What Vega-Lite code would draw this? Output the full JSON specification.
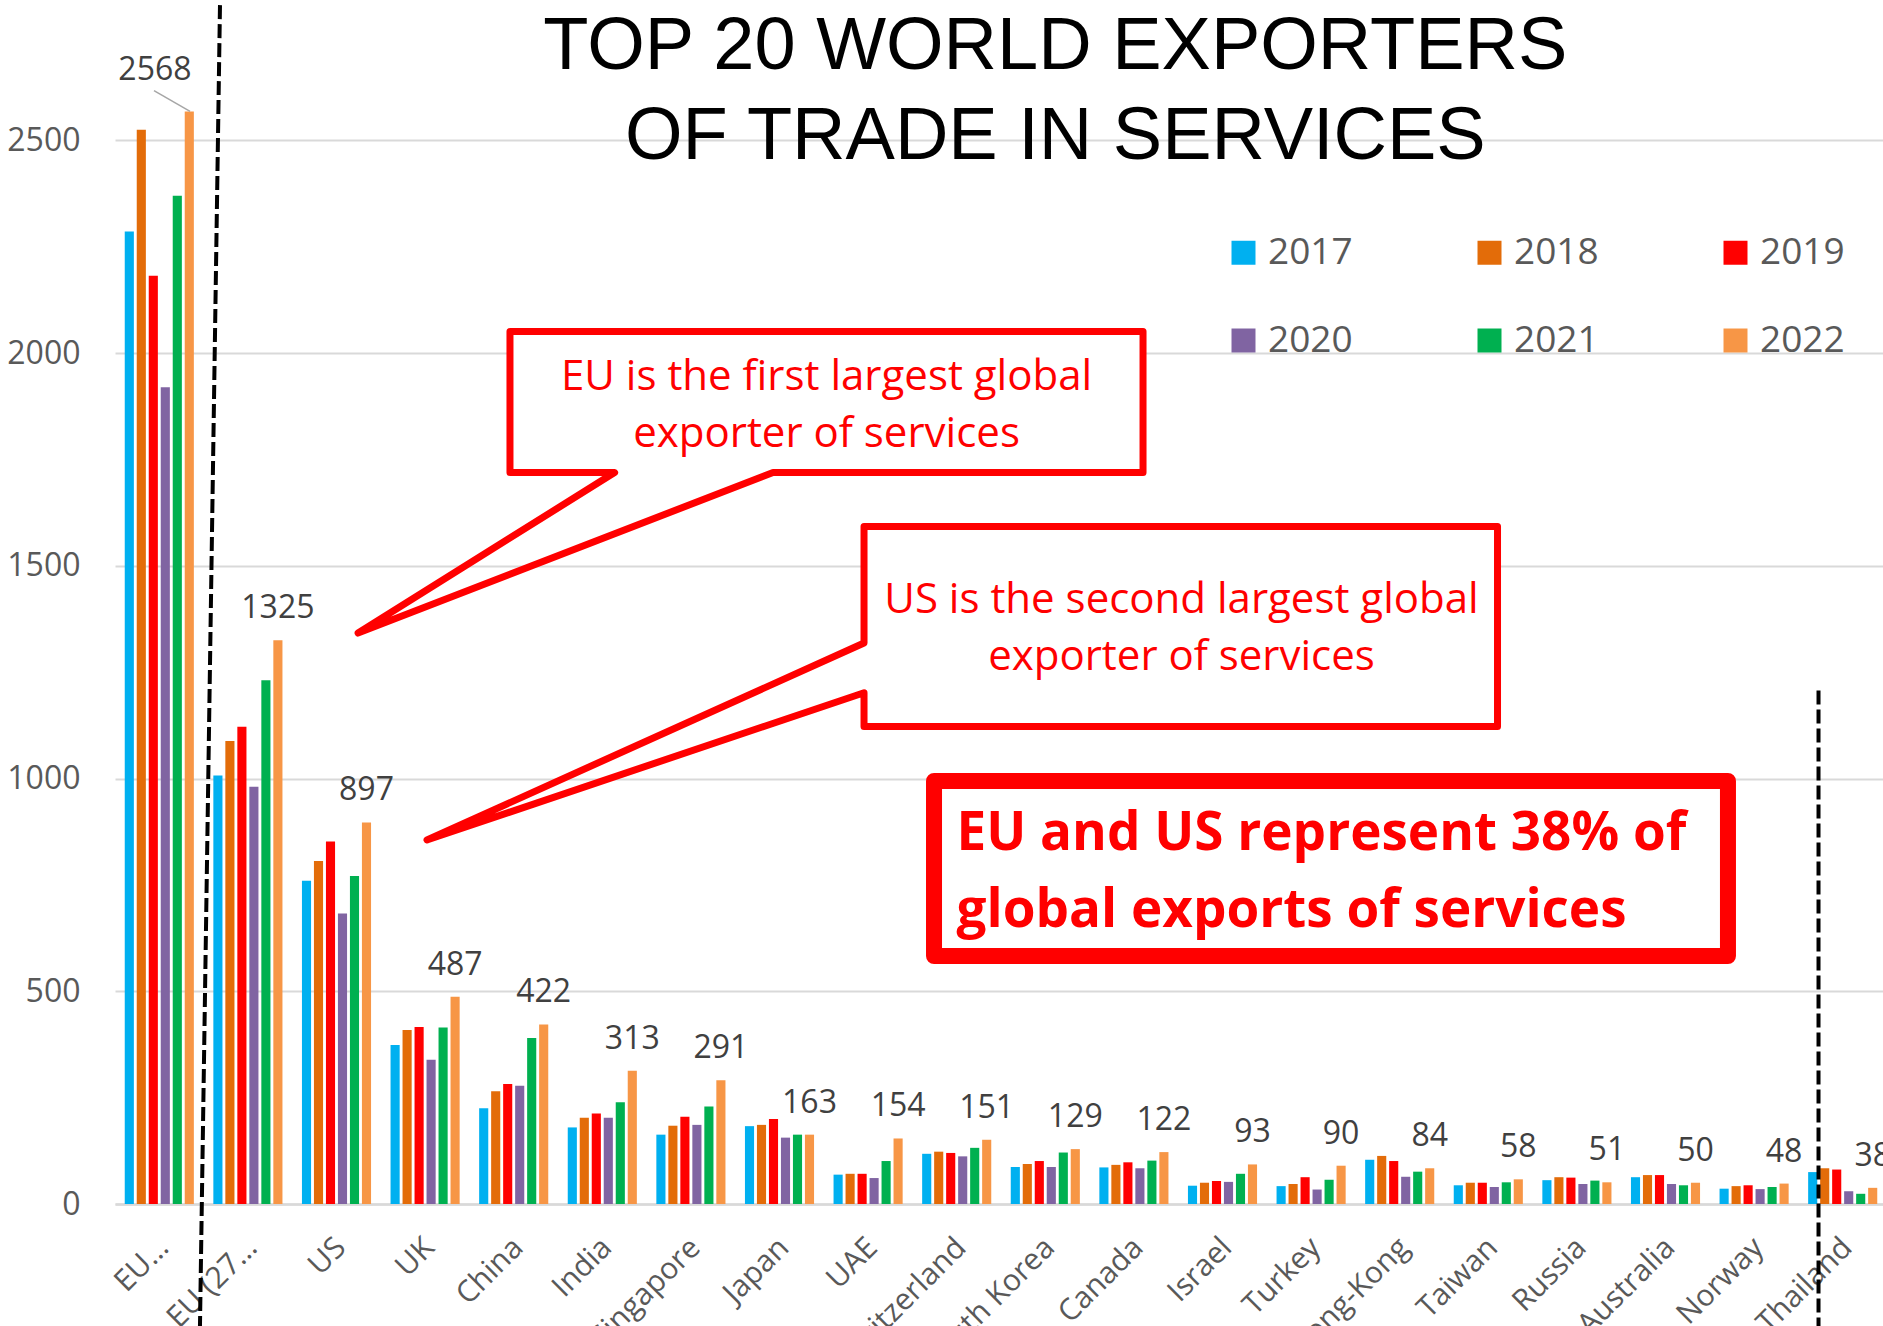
{
  "$schema": "https://vega.github.io/schema/vega-lite/v6.json",
  "width": 1772,
  "height": 1204,
  "autosize": "none",
  "padding": {"left": 115, "top": 0, "right": 0, "bottom": 122},
  "background": "white",
  "config": {"view": {"stroke": null}, "font": "Open Sans"},
  "datasets": {
    "exports": [
      {"country": "EU…", "year": "2017", "value": 2286}, {"country": "EU…", "year": "2018", "value": 2525}, {"country": "EU…", "year": "2019", "value": 2182}, {"country": "EU…", "year": "2020", "value": 1920}, {"country": "EU…", "year": "2021", "value": 2370}, {"country": "EU…", "year": "2022", "value": 2568},
      {"country": "Extra EU (27…", "year": "2017", "value": 1007}, {"country": "Extra EU (27…", "year": "2018", "value": 1088}, {"country": "Extra EU (27…", "year": "2019", "value": 1122}, {"country": "Extra EU (27…", "year": "2020", "value": 981}, {"country": "Extra EU (27…", "year": "2021", "value": 1231}, {"country": "Extra EU (27…", "year": "2022", "value": 1325},
      {"country": "US", "year": "2017", "value": 760}, {"country": "US", "year": "2018", "value": 806}, {"country": "US", "year": "2019", "value": 852}, {"country": "US", "year": "2020", "value": 683}, {"country": "US", "year": "2021", "value": 771}, {"country": "US", "year": "2022", "value": 897},
      {"country": "UK", "year": "2017", "value": 374}, {"country": "UK", "year": "2018", "value": 409}, {"country": "UK", "year": "2019", "value": 416}, {"country": "UK", "year": "2020", "value": 339}, {"country": "UK", "year": "2021", "value": 415}, {"country": "UK", "year": "2022", "value": 487},
      {"country": "China", "year": "2017", "value": 225}, {"country": "China", "year": "2018", "value": 265}, {"country": "China", "year": "2019", "value": 282}, {"country": "China", "year": "2020", "value": 278}, {"country": "China", "year": "2021", "value": 390}, {"country": "China", "year": "2022", "value": 422},
      {"country": "India", "year": "2017", "value": 180}, {"country": "India", "year": "2018", "value": 203}, {"country": "India", "year": "2019", "value": 213}, {"country": "India", "year": "2020", "value": 203}, {"country": "India", "year": "2021", "value": 239}, {"country": "India", "year": "2022", "value": 313},
      {"country": "Singapore", "year": "2017", "value": 163}, {"country": "Singapore", "year": "2018", "value": 184}, {"country": "Singapore", "year": "2019", "value": 205}, {"country": "Singapore", "year": "2020", "value": 186}, {"country": "Singapore", "year": "2021", "value": 229}, {"country": "Singapore", "year": "2022", "value": 291},
      {"country": "Japan", "year": "2017", "value": 183}, {"country": "Japan", "year": "2018", "value": 186}, {"country": "Japan", "year": "2019", "value": 200}, {"country": "Japan", "year": "2020", "value": 156}, {"country": "Japan", "year": "2021", "value": 163}, {"country": "Japan", "year": "2022", "value": 163},
      {"country": "UAE", "year": "2017", "value": 69}, {"country": "UAE", "year": "2018", "value": 71}, {"country": "UAE", "year": "2019", "value": 71}, {"country": "UAE", "year": "2020", "value": 61}, {"country": "UAE", "year": "2021", "value": 101}, {"country": "UAE", "year": "2022", "value": 154},
      {"country": "Switzerland", "year": "2017", "value": 118}, {"country": "Switzerland", "year": "2018", "value": 123}, {"country": "Switzerland", "year": "2019", "value": 120}, {"country": "Switzerland", "year": "2020", "value": 112}, {"country": "Switzerland", "year": "2021", "value": 132}, {"country": "Switzerland", "year": "2022", "value": 151},
      {"country": "South Korea", "year": "2017", "value": 87}, {"country": "South Korea", "year": "2018", "value": 94}, {"country": "South Korea", "year": "2019", "value": 101}, {"country": "South Korea", "year": "2020", "value": 87}, {"country": "South Korea", "year": "2021", "value": 121}, {"country": "South Korea", "year": "2022", "value": 129},
      {"country": "Canada", "year": "2017", "value": 86}, {"country": "Canada", "year": "2018", "value": 92}, {"country": "Canada", "year": "2019", "value": 98}, {"country": "Canada", "year": "2020", "value": 84}, {"country": "Canada", "year": "2021", "value": 102}, {"country": "Canada", "year": "2022", "value": 122},
      {"country": "Israel", "year": "2017", "value": 43}, {"country": "Israel", "year": "2018", "value": 50}, {"country": "Israel", "year": "2019", "value": 54}, {"country": "Israel", "year": "2020", "value": 52}, {"country": "Israel", "year": "2021", "value": 71}, {"country": "Israel", "year": "2022", "value": 93},
      {"country": "Turkey", "year": "2017", "value": 42}, {"country": "Turkey", "year": "2018", "value": 47}, {"country": "Turkey", "year": "2019", "value": 63}, {"country": "Turkey", "year": "2020", "value": 34}, {"country": "Turkey", "year": "2021", "value": 57}, {"country": "Turkey", "year": "2022", "value": 90},
      {"country": "Hong-Kong", "year": "2017", "value": 104}, {"country": "Hong-Kong", "year": "2018", "value": 113}, {"country": "Hong-Kong", "year": "2019", "value": 101}, {"country": "Hong-Kong", "year": "2020", "value": 64}, {"country": "Hong-Kong", "year": "2021", "value": 76}, {"country": "Hong-Kong", "year": "2022", "value": 84},
      {"country": "Taiwan", "year": "2017", "value": 44}, {"country": "Taiwan", "year": "2018", "value": 50}, {"country": "Taiwan", "year": "2019", "value": 50}, {"country": "Taiwan", "year": "2020", "value": 40}, {"country": "Taiwan", "year": "2021", "value": 51}, {"country": "Taiwan", "year": "2022", "value": 58},
      {"country": "Russia", "year": "2017", "value": 56}, {"country": "Russia", "year": "2018", "value": 63}, {"country": "Russia", "year": "2019", "value": 62}, {"country": "Russia", "year": "2020", "value": 47}, {"country": "Russia", "year": "2021", "value": 55}, {"country": "Russia", "year": "2022", "value": 51},
      {"country": "Australia", "year": "2017", "value": 63}, {"country": "Australia", "year": "2018", "value": 68}, {"country": "Australia", "year": "2019", "value": 68}, {"country": "Australia", "year": "2020", "value": 47}, {"country": "Australia", "year": "2021", "value": 44}, {"country": "Australia", "year": "2022", "value": 50},
      {"country": "Norway", "year": "2017", "value": 36}, {"country": "Norway", "year": "2018", "value": 42}, {"country": "Norway", "year": "2019", "value": 44}, {"country": "Norway", "year": "2020", "value": 35}, {"country": "Norway", "year": "2021", "value": 40}, {"country": "Norway", "year": "2022", "value": 48},
      {"country": "Thailand", "year": "2017", "value": 75}, {"country": "Thailand", "year": "2018", "value": 84}, {"country": "Thailand", "year": "2019", "value": 81}, {"country": "Thailand", "year": "2020", "value": 30}, {"country": "Thailand", "year": "2021", "value": 24}, {"country": "Thailand", "year": "2022", "value": 38}
    ],
    "boxes": [
      {"box": "b1", "x1": 4.458, "x2": 11.603, "value": 1719.4, "value2": 2050.8},
      {"box": "b2", "x1": 8.454, "x2": 15.604, "value": 1122.4, "value2": 1592.5},
      {"box": "b3", "x1": 9.244, "x2": 18.205, "value": 582.9, "value2": 994.2}
    ],
    "outlines": [
      {"shape": "b1", "i": 1, "x": 4.458, "value": 2050.8},
      {"shape": "b1", "i": 2, "x": 11.603, "value": 2050.8},
      {"shape": "b1", "i": 3, "x": 11.603, "value": 1719.4},
      {"shape": "b1", "i": 4, "x": 7.427, "value": 1719.4},
      {"shape": "b1", "i": 5, "x": 2.743, "value": 1342.1},
      {"shape": "b1", "i": 6, "x": 5.639, "value": 1719.4},
      {"shape": "b1", "i": 7, "x": 4.458, "value": 1719.4},
      {"shape": "b2", "i": 1, "x": 8.454, "value": 1592.5},
      {"shape": "b2", "i": 2, "x": 15.604, "value": 1592.5},
      {"shape": "b2", "i": 3, "x": 15.604, "value": 1122.4},
      {"shape": "b2", "i": 4, "x": 8.454, "value": 1122.4},
      {"shape": "b2", "i": 5, "x": 8.454, "value": 1201.8},
      {"shape": "b2", "i": 6, "x": 3.521, "value": 855.6},
      {"shape": "b2", "i": 7, "x": 8.454, "value": 1318.6},
      {"shape": "b3", "i": 1, "x": 9.244, "value": 994.2},
      {"shape": "b3", "i": 2, "x": 18.205, "value": 994.2},
      {"shape": "b3", "i": 3, "x": 18.205, "value": 582.9},
      {"shape": "b3", "i": 4, "x": 9.244, "value": 582.9}
    ],
    "guides": [
      {"line": "split1", "i": 1, "x": 1.185, "value": 2818},
      {"line": "split1", "i": 2, "x": 0.959, "value": -287},
      {"line": "split2", "i": 1, "x": 19.227, "value": 1207},
      {"line": "split2", "i": 2, "x": 19.227, "value": -287}
    ],
    "leader": [
      {"i": 1, "x": 0.44, "value": 2617},
      {"i": 2, "x": 0.847, "value": 2568}
    ],
    "texts": [
      {"kind": "title", "t": "TOP 20 WORLD EXPORTERS", "x": 10.613, "value": 2667},
      {"kind": "title", "t": "OF TRADE IN SERVICES", "x": 10.613, "value": 2455.5},
      {"kind": "callout", "t": "EU is the first largest global", "x": 8.031, "value": 1913.3},
      {"kind": "callout", "t": "exporter of services", "x": 8.031, "value": 1780},
      {"kind": "callout", "t": "US is the second largest global", "x": 12.037, "value": 1389.1},
      {"kind": "callout", "t": "exporter of services", "x": 12.037, "value": 1255.1},
      {"kind": "headline", "t": "EU and US represent 38% of", "x": 9.498, "value": 832.1},
      {"kind": "headline", "t": "global exports of services", "x": 9.498, "value": 651.8},
      {"kind": "eulabel", "t": "2568", "x": 0.451, "value": 2643}
    ]
  },
  "layer": [
    {
      "data": {"name": "exports"},
      "mark": {"type": "bar"},
      "encoding": {
        "x": {
          "field": "country", "type": "nominal", "sort": null,
          "scale": {"domain": ["EU…", "Extra EU (27…", "US", "UK", "China", "India", "Singapore", "Japan", "UAE", "Switzerland", "South Korea", "Canada", "Israel", "Turkey", "Hong-Kong", "Taiwan", "Russia", "Australia", "Norway", "Thailand"], "paddingInner": 0.22, "paddingOuter": 0.11},
          "axis": {"title": null, "labelAngle": -45, "labelFontSize": 30, "labelColor": "#595959", "labelFont": "Open Sans", "ticks": false, "domainColor": "#D9D9D9", "domainWidth": 2.5, "labelPadding": 28, "labelOffset": -6, "labelLimit": 400}
        },
        "xOffset": {"field": "year", "type": "nominal", "scale": {"domain": ["2017", "2018", "2019", "2020", "2021", "2022"], "paddingInner": 0.24}},
        "y": {
          "field": "value", "type": "quantitative",
          "scale": {"domain": [0, 2830], "nice": false},
          "axis": {"title": null, "values": [0, 500, 1000, 1500, 2000, 2500], "format": "d", "grid": true, "gridColor": "#D9D9D9", "gridWidth": 2, "domain": false, "ticks": false, "labelFontSize": 32, "labelColor": "#595959", "labelFont": "Open Sans", "labelPadding": 35}
        },
        "color": {
          "field": "year", "type": "nominal",
          "scale": {"domain": ["2017", "2018", "2019", "2020", "2021", "2022"], "range": ["#00B0F0", "#E36C09", "#FF0000", "#8064A2", "#00B050", "#F79646"]},
          "legend": {"title": null, "orient": "none", "legendX": 1110, "legendY": 234, "columns": 3, "direction": "horizontal", "symbolType": "square", "symbolSize": 576, "symbolStrokeWidth": 0, "symbolOpacity": 1, "labelFontSize": 37, "labelColor": "#595959", "labelFont": "Open Sans", "labelOffset": 6, "columnPadding": 118, "rowPadding": 50, "padding": 0}
        }
      }
    },
    {
      "data": {"name": "exports"},
      "transform": [{"filter": "datum.year == '2022' && datum.country != 'EU…'"}],
      "mark": {"type": "text", "baseline": "alphabetic", "align": "center", "dy": -22, "fontSize": 32, "color": "#404040", "font": "Open Sans"},
      "encoding": {
        "x": {
          "field": "country", "type": "nominal", "sort": null,
          "scale": {"domain": ["EU…", "Extra EU (27…", "US", "UK", "China", "India", "Singapore", "Japan", "UAE", "Switzerland", "South Korea", "Canada", "Israel", "Turkey", "Hong-Kong", "Taiwan", "Russia", "Australia", "Norway", "Thailand"], "paddingInner": 0.22, "paddingOuter": 0.11},
          "axis": null
        },
        "xOffset": {"field": "year", "type": "nominal", "scale": {"domain": ["2017", "2018", "2019", "2020", "2021", "2022"], "paddingInner": 0.24}},
        "y": {"field": "value", "type": "quantitative"},
        "text": {"field": "value", "type": "quantitative"}
      }
    },
    {
      "data": {"name": "guides"},
      "mark": {"type": "line", "color": "black", "strokeWidth": 4, "strokeDash": [14, 5]},
      "encoding": {
        "x": {"field": "x", "type": "quantitative", "scale": {"domain": [0, 20], "nice": false, "zero": false}, "axis": null},
        "y": {"field": "value", "type": "quantitative"},
        "detail": {"field": "line"},
        "order": {"field": "i"}
      }
    },
    {
      "data": {"name": "leader"},
      "mark": {"type": "line", "color": "#A6A6A6", "strokeWidth": 1.5},
      "encoding": {
        "x": {"field": "x", "type": "quantitative", "scale": {"domain": [0, 20], "nice": false, "zero": false}, "axis": null},
        "y": {"field": "value", "type": "quantitative"},
        "order": {"field": "i"}
      }
    },
    {
      "data": {"name": "boxes"},
      "mark": {"type": "rect", "fill": "white", "strokeWidth": 0},
      "encoding": {
        "x": {"field": "x1", "type": "quantitative", "scale": {"domain": [0, 20], "nice": false, "zero": false}, "axis": null},
        "x2": {"field": "x2"},
        "y": {"field": "value", "type": "quantitative"},
        "y2": {"field": "value2"}
      }
    },
    {
      "data": {"name": "outlines"},
      "transform": [{"filter": "datum.shape != 'b3'"}],
      "mark": {"type": "line", "interpolate": "linear-closed", "color": "#FF0000", "strokeWidth": 7, "strokeJoin": "round"},
      "encoding": {
        "x": {"field": "x", "type": "quantitative", "scale": {"domain": [0, 20], "nice": false, "zero": false}, "axis": null},
        "y": {"field": "value", "type": "quantitative"},
        "detail": {"field": "shape"},
        "order": {"field": "i"}
      }
    },
    {
      "data": {"name": "outlines"},
      "transform": [{"filter": "datum.shape == 'b3'"}],
      "mark": {"type": "line", "interpolate": "linear-closed", "color": "#FF0000", "strokeWidth": 16, "strokeJoin": "round"},
      "encoding": {
        "x": {"field": "x", "type": "quantitative", "scale": {"domain": [0, 20], "nice": false, "zero": false}, "axis": null},
        "y": {"field": "value", "type": "quantitative"},
        "order": {"field": "i"}
      }
    },
    {
      "data": {"name": "texts"},
      "transform": [{"filter": "datum.kind == 'title'"}],
      "mark": {"type": "text", "align": "center", "baseline": "alphabetic", "font": "Liberation Sans", "fontSize": 74, "color": "black"},
      "encoding": {
        "x": {"field": "x", "type": "quantitative", "scale": {"domain": [0, 20], "nice": false, "zero": false}, "axis": null},
        "y": {"field": "value", "type": "quantitative"},
        "text": {"field": "t"}
      }
    },
    {
      "data": {"name": "texts"},
      "transform": [{"filter": "datum.kind == 'callout'"}],
      "mark": {"type": "text", "align": "center", "baseline": "alphabetic", "font": "Open Sans", "fontSize": 42, "color": "#FF0000"},
      "encoding": {
        "x": {"field": "x", "type": "quantitative", "scale": {"domain": [0, 20], "nice": false, "zero": false}, "axis": null},
        "y": {"field": "value", "type": "quantitative"},
        "text": {"field": "t"}
      }
    },
    {
      "data": {"name": "texts"},
      "transform": [{"filter": "datum.kind == 'headline'"}],
      "mark": {"type": "text", "align": "left", "baseline": "alphabetic", "font": "Open Sans", "fontWeight": "bold", "fontSize": 53, "color": "#FF0000"},
      "encoding": {
        "x": {"field": "x", "type": "quantitative", "scale": {"domain": [0, 20], "nice": false, "zero": false}, "axis": null},
        "y": {"field": "value", "type": "quantitative"},
        "text": {"field": "t"}
      }
    },
    {
      "data": {"name": "texts"},
      "transform": [{"filter": "datum.kind == 'eulabel'"}],
      "mark": {"type": "text", "align": "center", "baseline": "alphabetic", "font": "Open Sans", "fontSize": 32, "color": "#404040"},
      "encoding": {
        "x": {"field": "x", "type": "quantitative", "scale": {"domain": [0, 20], "nice": false, "zero": false}, "axis": null},
        "y": {"field": "value", "type": "quantitative"},
        "text": {"field": "t"}
      }
    }
  ],
  "resolve": {"scale": {"x": "independent"}}
}
